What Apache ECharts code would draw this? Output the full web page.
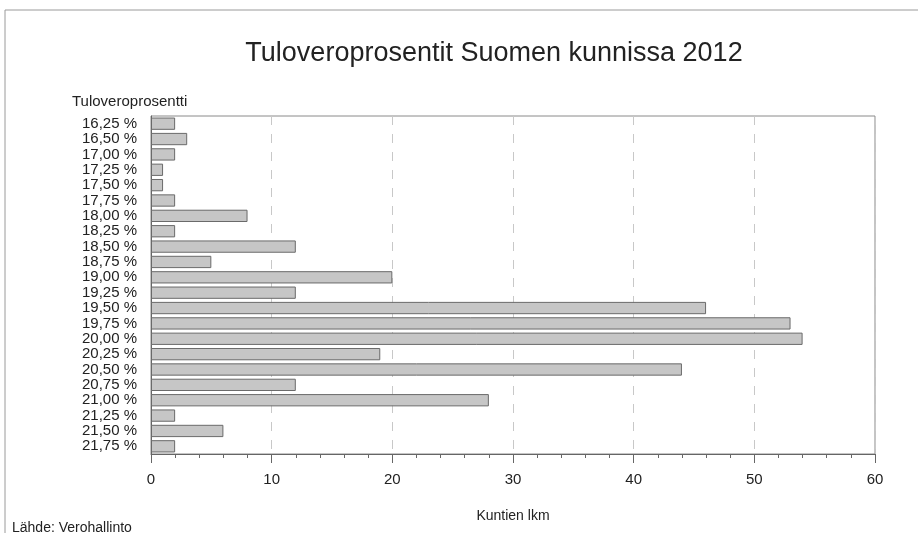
<!DOCTYPE html>
<html><head><meta charset="utf-8">
<script src="https://cdn.jsdelivr.net/npm/echarts@6/dist/echarts.min.js"></script>
<style>html,body{margin:0;padding:0;background:#fff}#c{width:918px;height:533px}</style>
</head><body><div id="c"></div>
<script>
var categories = ["16,25 %","16,50 %","17,00 %","17,25 %","17,50 %","17,75 %","18,00 %","18,25 %","18,50 %","18,75 %","19,00 %","19,25 %","19,50 %","19,75 %","20,00 %","20,25 %","20,50 %","20,75 %","21,00 %","21,25 %","21,50 %","21,75 %"];
var counts = [2,3,2,1,1,2,8,2,12,5,20,12,46,53,54,19,44,12,28,2,6,2];
var xTicks = [0,10,20,30,40,50,60];
var FONT = '"Liberation Sans", Arial, sans-serif';
var chart = echarts.init(document.getElementById('c'), null, {renderer:'canvas'});
chart.setOption({
  animation:false,
  backgroundColor:'#fff',
  title:{text:'Tuloveroprosentit Suomen kunnissa 2012', left:489, top:35, textAlign:'center',
    textStyle:{fontFamily:FONT, fontSize:27, fontWeight:'normal', color:'#222'}},
  graphic:[
    {type:'rect', shape:{x:5,y:10,width:920,height:540}, style:{fill:'none', stroke:'#9a9a9a', lineWidth:1}, silent:true},
    {type:'text', left:12, top:521, style:{text:'Lähde: Verohallinto', font:'14px '+FONT, fill:'#222'}},
    {type:'text', left:72, top:94, style:{text:'Tuloveroprosentti', font:'15px '+FONT, fill:'#222'}}
  ],
  grid:{left:151, right:43, top:116, bottom:79, show:true, borderColor:'#8a8a8a', borderWidth:1},
  xAxis:{type:'value', min:0, max:60, interval:10,
    name:'Kuntien lkm', nameLocation:'middle', nameGap:55,
    nameTextStyle:{fontFamily:FONT, fontSize:14, color:'#222'},
    axisLine:{show:true, lineStyle:{color:'#666'}},
    axisTick:{show:true, length:9, inside:false, lineStyle:{color:'#666'}},
    minorTick:{show:true, splitNumber:5, length:4, lineStyle:{color:'#666'}},
    axisLabel:{fontFamily:FONT, fontSize:15, color:'#222', margin:18,
      formatter:function(v){return xTicks.indexOf(v)>=0?String(v):'';}},
    splitLine:{show:true, lineStyle:{color:'#c8c8c8', type:[9,9], width:1}}
  },
  yAxis:{type:'category', data:categories, inverse:true,
    axisLine:{show:true, lineStyle:{color:'#666'}},
    axisTick:{show:false},
    axisLabel:{interval:0, fontFamily:FONT, fontSize:15, color:'#222', margin:14, lineHeight:15}
  },
  series:[{type:'bar', data:counts, barCategoryGap:'20%',
    itemStyle:{color:'#c6c6c6', borderColor:'#6a6a6a', borderWidth:1}}]
});
</script></body></html>
